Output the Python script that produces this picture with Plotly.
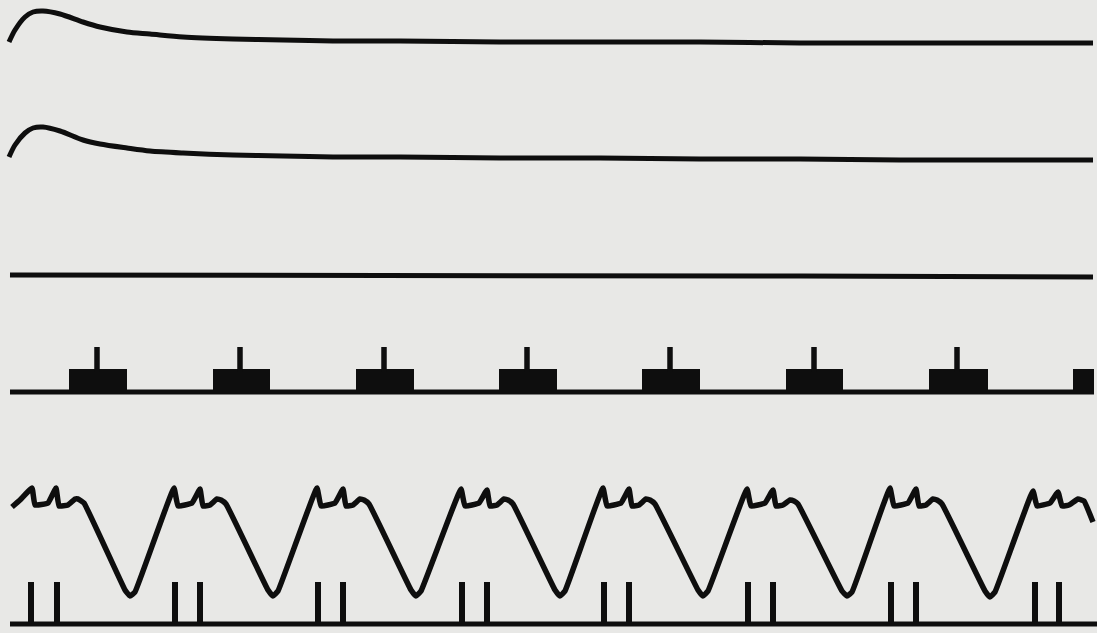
import plotly.graph_objects as go

# ---- Data (pixel-like coordinates, y downward) ----
# Trace 1 (top): transient then flat
t1_x = [9, 15, 25, 33, 43, 60, 83, 100, 127, 150, 183, 233, 283, 333, 400, 500, 600, 700, 800, 900, 1000, 1093]
t1_y = [42, 30, 17, 12, 11, 14, 22, 27, 32, 34, 37, 39, 40, 41, 41, 42, 42, 42, 43, 43, 43, 43]

# Trace 2: same transient shape
t2_x = [9, 15, 25, 33, 43, 60, 83, 100, 127, 150, 183, 233, 283, 333, 400, 500, 600, 700, 800, 900, 1000, 1093]
t2_y = [157, 145, 133, 128, 127, 131, 140, 144, 148, 151, 153, 155, 156, 157, 157, 158, 158, 159, 159, 160, 160, 160]

# Trace 3: flat line
t3_x = [10, 400, 800, 1093]
t3_y = [275, 275, 276, 277]

# Trace 4: pulse train (baseline, blocks, spikes)
pulse_base_x = [10, 1094]
pulse_base_y = [392, 392]
block_left = [69, 213, 356, 499, 642, 786, 929, 1073]
block_width = [58, 57, 58, 58, 58, 57, 59, 21]
block_height = [23, 23, 23, 23, 23, 23, 23, 23]
block_spike_x = [97, 240, 384, 527, 670, 814, 957]
block_spike_top = [347, 347, 347, 347, 347, 347, 347]

# Trace 5: wave
wave_x = [12, 20, 32, 35, 48, 56, 59, 68, 75, 78, 84,
          125, 130, 135,
          174, 178, 192, 200, 203, 210, 217, 221, 226,
          268, 273, 278,
          317, 321, 335, 343, 346, 353, 360, 364, 369,
          411, 416, 421,
          461, 465, 479, 487, 490, 497, 504, 508, 513,
          555, 560, 565,
          603, 607, 621, 629, 632, 639, 646, 650, 655,
          698, 703, 708,
          747, 751, 765, 773, 776, 783, 790, 794, 798,
          842, 847, 852,
          890, 894, 908, 916, 919, 926, 933, 937, 942,
          985, 990, 995,
          1033, 1037, 1050, 1058, 1062, 1069, 1078, 1084, 1093]
wave_y = [507, 500, 488, 505, 503, 488, 506, 505, 499, 499, 503,
          590, 596, 592,
          488, 506, 503, 489, 506, 505, 499, 500, 504,
          590, 596, 591,
          488, 506, 503, 489, 506, 505, 499, 500, 504,
          590, 596, 591,
          489, 506, 503, 490, 506, 505, 499, 500, 504,
          590, 596, 591,
          488, 506, 503, 489, 506, 505, 499, 500, 504,
          590, 596, 591,
          489, 506, 503, 490, 506, 505, 500, 501, 504,
          591, 596, 592,
          488, 506, 503, 489, 506, 505, 499, 500, 504,
          591, 597, 592,
          491, 506, 503, 492, 506, 505, 499, 501, 522]

# Trace 6: event marks (bottom)
mark_base_x = [10, 1097]
mark_base_y = [624, 624]
mark_x = [31, 57, 175, 200, 318, 343, 462, 487, 604, 629, 748, 773, 891, 916, 1035, 1059]
mark_top = [582, 582, 582, 582, 582, 582, 582, 582, 582, 582, 582, 582, 582, 582, 582, 582]

INK = "#0e0e0e"
LW = 5

fig = go.Figure()

def line(x, y, w=LW, shape="linear", smooth=None):
    ln = dict(color=INK, width=w, shape=shape)
    if smooth is not None:
        ln["smoothing"] = smooth
    fig.add_trace(go.Scatter(x=x, y=y, mode="lines", line=ln,
                             hoverinfo="skip", showlegend=False))

line(t1_x, t1_y, shape="spline", smooth=0.8)
line(t2_x, t2_y, shape="spline", smooth=0.8)
line(t3_x, t3_y)
line(pulse_base_x, pulse_base_y)

# blocks of the pulse train
fig.add_trace(go.Bar(
    x=[l + w / 2 for l, w in zip(block_left, block_width)],
    y=[-h for h in block_height],
    base=[pulse_base_y[0]] * len(block_left),
    width=block_width,
    marker=dict(color=INK, line=dict(width=0)),
    hoverinfo="skip", showlegend=False))

# spikes on the blocks
sx, sy = [], []
for x, top in zip(block_spike_x, block_spike_top):
    sx += [x, x, None]
    sy += [pulse_base_y[0] - 20, top, None]
line(sx, sy, 5.5)

line(wave_x, wave_y, 5.5, shape="spline", smooth=0.3)

line(mark_base_x, mark_base_y)
mx, my = [], []
for x, top in zip(mark_x, mark_top):
    mx += [x, x, None]
    my += [mark_base_y[0], top, None]
line(mx, my, 6)

fig.update_layout(
    width=1097, height=633,
    margin=dict(l=0, r=0, t=0, b=0),
    paper_bgcolor="#e8e8e6", plot_bgcolor="#e8e8e6",
    barmode="overlay",
    xaxis=dict(range=[0, 1097], visible=False, fixedrange=True),
    yaxis=dict(range=[633, 0], visible=False, fixedrange=True),
)

fig.write_html("out.html", config={"displayModeBar": False},
               post_script="document.body.style.margin='0';document.body.style.background='#e8e8e6';document.body.style.overflow='hidden';")
